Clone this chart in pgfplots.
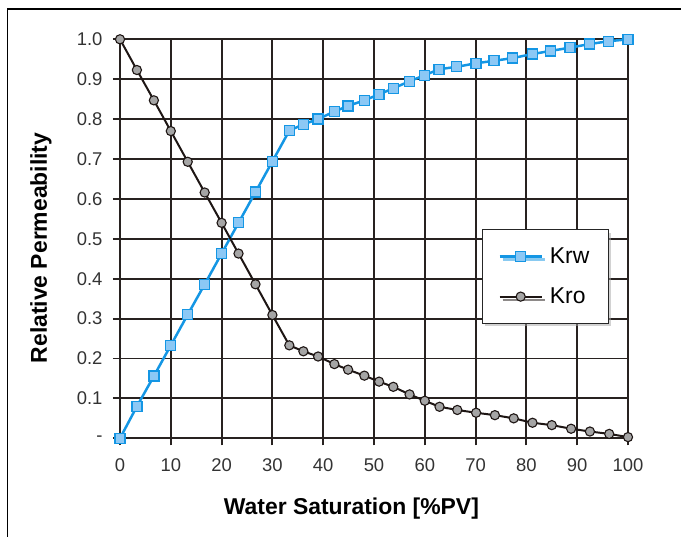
\documentclass[border=0pt]{standalone}
\usepackage{pgfplots}
\pgfplotsset{compat=1.18}
\usepackage{fontspec}
\setmainfont{Liberation Sans}
\usetikzlibrary{shadows}
\definecolor{gridc}{RGB}{40,34,32}
\definecolor{krwline}{RGB}{20,150,228}
\definecolor{krwfill}{RGB}{140,200,245}
\definecolor{krofill}{RGB}{165,165,165}
\definecolor{kroline}{RGB}{30,22,20}
\begin{document}
\begin{tikzpicture}
\path[use as bounding box] (0,0) rectangle (681bp,537bp);
\draw[line width=1.6bp, black] (7.5bp,0) -- (7.5bp,527.7bp) -- (681bp,527.7bp);
\begin{axis}[
  at={(120bp,98.7bp)}, anchor=south west,
  scale only axis, width=508bp, height=399bp,
  xmin=0, xmax=100, ymin=0, ymax=1,
  clip=false,
  xtick={0,10,...,100},
  xticklabels={0,10,20,30,40,50,60,70,80,90,100},
  ytick={0,0.1,0.2,0.3,0.4,0.5,0.6,0.7,0.8,0.9,1.0},
  yticklabels={-,0.1,0.2,0.3,0.4,0.5,0.6,0.7,0.8,0.9,1.0},
  xtick pos=bottom, ytick pos=left,
  tick align=outside, major tick length=7bp,
  tick style={line width=1.9bp, color=gridc},
  grid=major,
  major grid style={line width=1.9bp, color=gridc},
  axis line style={line width=1.9bp, color=gridc},
  ticklabel style={font=\fontsize{18.5}{18.5}\selectfont, color=black!80},
  yticklabel style={xshift=-7bp},
  xticklabel style={yshift=-10bp},
  xlabel={\bfseries Water Saturation [\%PV]},
  ylabel={\bfseries Relative Permeability},
  label style={font=\fontsize{23}{23}\selectfont},
  xlabel style={at={(axis description cs:0.4555,-0.1922)}, anchor=base},
  ylabel style={at={(axis description cs:-0.1555,0.477)}, anchor=center},
  legend cell align=left,
  legend image code/.code={\draw[mark repeat=2,mark phase=2,#1] plot coordinates {(0bp,0bp) (21bp,0bp) (42bp,0bp)};},
  legend style={at={(axis description cs:0.712,0.5246)}, anchor=north west,
    draw=black!85, line width=1.5bp, fill=white,
    drop shadow={shadow xshift=3bp, shadow yshift=-3bp, fill=gray!70},
    inner xsep=16bp, inner ysep=15bp, row sep=17bp,
    font=\fontsize{23}{23}\selectfont,
    nodes={inner sep=3bp},
    /tikz/every odd column/.append style={column sep=4bp}},
]
\addplot[color=krwline, line width=2.5bp, mark=square*,
  mark size=5bp, mark options={fill=krwfill, draw=krwline, line width=1.3bp}]
coordinates {
(0,0) (3.33,0.080) (6.67,0.156) (10,0.233) (13.33,0.310) (16.67,0.386)
(20,0.463) (23.33,0.540) (26.67,0.617) (30,0.694) (33.33,0.771)
(36.1,0.787) (39.0,0.800) (42.2,0.819) (44.9,0.833) (48.1,0.847)
(51.0,0.862) (53.8,0.877) (57.0,0.895) (60.0,0.910) (62.8,0.925)
(66.3,0.931) (70.1,0.940) (73.6,0.946) (77.3,0.953) (81.2,0.963)
(84.8,0.971) (88.6,0.979) (92.4,0.988) (96.1,0.995) (100,1.0)
};
\addlegendentry{Krw}
\addplot[color=kroline, line width=2bp, mark=*,
  mark size=4.6bp, mark options={fill=krofill, draw=kroline, line width=1.1bp}]
coordinates {
(0,1.0) (3.33,0.923) (6.67,0.847) (10,0.770) (13.33,0.693) (16.67,0.616)
(20,0.540) (23.33,0.463) (26.67,0.386) (30,0.309) (33.33,0.233)
(36.1,0.218) (39.0,0.205) (42.2,0.186) (44.9,0.172) (48.1,0.157)
(51.0,0.142) (53.8,0.129) (57.0,0.110) (60.0,0.094) (62.9,0.079)
(66.4,0.071) (70.1,0.064) (73.8,0.058) (77.5,0.050) (81.2,0.039)
(85.0,0.033) (88.8,0.024) (92.5,0.017) (96.3,0.011) (100,0.003)
};
\addlegendentry{Kro}
\end{axis}
\end{tikzpicture}
\end{document}
